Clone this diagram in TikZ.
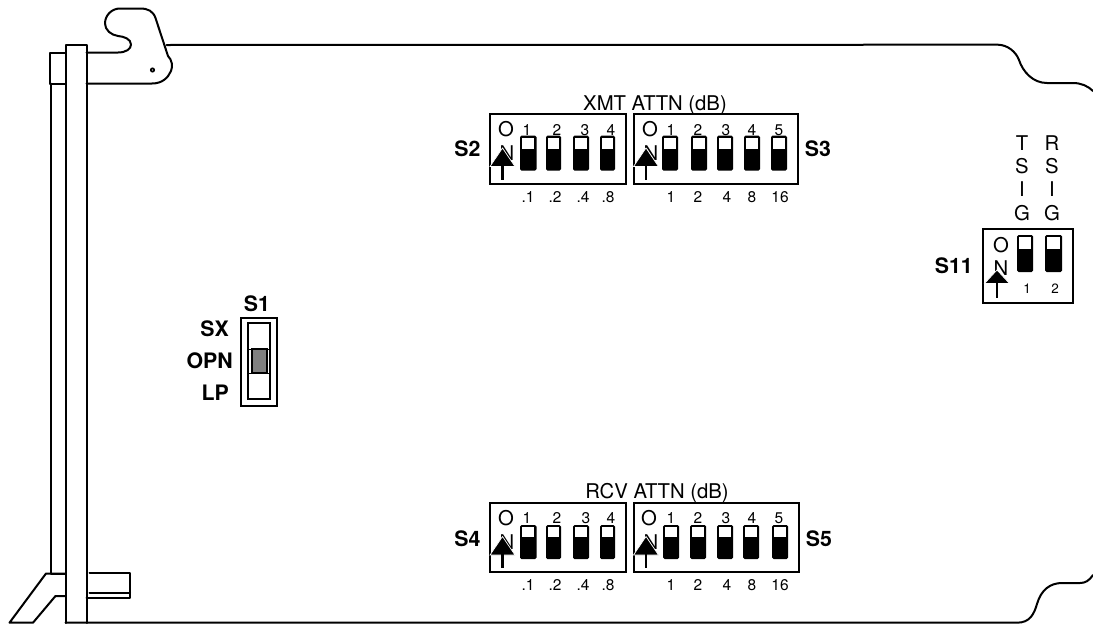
\documentclass[tikz,border=0pt]{standalone}
\usepackage{fontspec}
\setmainfont{TeX Gyre Heros}
\newcommand{\fs}[1]{\fontsize{#1}{#1}\selectfont}
\tikzset{
  outline/.style={line width=2pt,line join=round,line cap=round},
  dipbox/.style={draw,line width=2pt},
  big/.style={inner sep=0pt,anchor=base,font=\fs{20.3}},
  boldlbl/.style={inner sep=0pt,anchor=base,font=\fs{21.3}\bfseries},
  num/.style={inner sep=0pt,anchor=base,font=\fs{15.5}},
  swbody/.style={fill=black,rounded corners=1.5pt},
  arrowhead/.style={fill=black,draw=white,line width=0.7pt},
  stem/.style={line width=2.2pt}
}
% dip switch lever: x1,x2,ytop,ydiv,ybot
\newcommand{\lever}[5]{%
  \fill[swbody] (#1,#3) rectangle (#2,#5);
  \fill[white] (#1+2.2,#3+2.2) rectangle (#2-2.2,#4);
}
% ON marker: xO, yO baseline, xN, yN baseline, apex x, apex y, base y, stem end y
\newcommand{\onmark}[8]{%
  \node[big] at (#1,#2) {O};
  \node[big] at (#3,#4) {N};
  \draw[arrowhead] (#5-12.5,#7+0.5) -- (#5,#6-1) -- (#5+12.5,#7+0.5) -- cycle;
  \draw[stem] (#5,#7-1) -- (#5,#8);
}
\begin{document}
\begin{tikzpicture}[x=1pt,y=-1pt]
\useasboundingbox (0,0) rectangle (1093,624);
% card outline
\draw[outline] (65.5,623) -- (65.5,45) -- (86.5,45) -- (86.5,623);
\draw[outline] (65.5,622.7) -- (1017,622.7)
  .. controls (1030,622.7) and (1034,614) .. (1037,604)
  .. controls (1041,590) and (1050,583) .. (1062,583)
  -- (1080,583) .. controls (1085,583) and (1089,581) .. (1093,575);
\draw[outline] (50,83.5) -- (50,53) -- (65.5,53);
\draw[outline] (50,83.5) -- (65.5,83.5);
\draw[outline] (51,83.5) -- (51,573.5) -- (65.5,573.5);
\draw[outline] (86.5,52.5) -- (118,52.5)
  .. controls (126,52.5) and (131,49) .. (131,44.5)
  .. controls (131,39) and (124,36.5) .. (118,36)
  .. controls (111,35) and (105,30) .. (105,23.5)
  .. controls (105,15) and (112,8.5) .. (120,8.5)
  -- (140,8.5)
  .. controls (148,8.5) and (153,11) .. (155.5,18)
  -- (168,56)
  .. controls (172,60) and (173,66) .. (171,71)
  .. controls (168,78) and (162,83.5) .. (152,83.5)
  -- (86.5,83.5);
\fill (152.5,70) circle (2.6pt);
\fill[white] (152.5,70) circle (0.7pt);
\draw[outline] (166.5,45) -- (998,44.7)
  .. controls (1008,45) and (1016,52) .. (1019,60)
  .. controls (1023,72) and (1033,83) .. (1047,83)
  -- (1073,83) .. controls (1081,83) and (1088,86) .. (1093,91);
% bottom-left foot and latch
\draw[outline] (65.5,573.5) -- (46,573.5) -- (9.5,622.7) -- (33,622.7) -- (55.5,596) -- (65.5,596);
\draw[outline] (89.5,572.5) -- (130,572.5) -- (130,597.5) -- (86.5,597.5);
\draw[outline] (89.5,593) -- (130,593);
% S1
\node[dipbox,minimum width=36pt,minimum height=88pt,inner sep=0pt] (s1box) at (259,362) {};
\node[draw,line width=1.8pt,minimum width=22pt,minimum height=76pt,inner sep=0pt] (s1inner) at (259,361) {};
\draw[line width=0.5pt] (s1inner.west |- 0,349) -- (s1inner.east |- 0,349);
\draw[line width=0.5pt] (s1inner.west |- 0,373) -- (s1inner.east |- 0,373);
\node[draw,fill=black!50,line width=1.8pt,minimum width=15pt,minimum height=24pt,inner sep=0pt] (s1slider) at (259.5,361) {};
\node[boldlbl] (s1) at (257,311) {S1};
\node[boldlbl,anchor=base east] (sx) at (229,336) {SX};
\node[boldlbl,anchor=base east] (opn) at (233,368) {OPN};
\node[boldlbl,anchor=base east] (lp) at (229,400) {LP};
% S2 / S3 boxes
\path[dipbox,draw] (490,114.3) rectangle (626,183.7);
\path[dipbox,draw] (633.5,114.3) rectangle (797.7,183.7);
\node[big] (xmt) at (655,110) {XMT ATTN (dB)};
\node[boldlbl] (s2) at (467.5,156) {S2};
\node[boldlbl] (s3) at (818,156) {S3};
\onmark{506}{136}{507}{160}{502.5}{149}{166}{180}
\onmark{650}{136}{651}{160}{646}{149}{166}{180}
\foreach \a/\b in {520/536.5,546/561,573/589,600/615,662/678,691/707,717/733,744/760,771/787}
  {\lever{\a}{\b}{135.7}{149}{170.7}}
\foreach \x/\t in {527/1,557/2,585/3,611/4,671/1,698/2,726/3,752/4,779/5}
  \node[num] at (\x,135) {\t};
\foreach \x/\t in {528/.1,555/.2,583/.4,608/.8,671/1,698/2,727/4,752/8,780/16}
  \node[num] at (\x,202) {\t};
% S4 / S5 boxes
\path[dipbox,draw] (490,502.7) rectangle (626,572);
\path[dipbox,draw] (633.5,502.7) rectangle (798.5,572);
\node[big] (rcv) at (657,498.5) {RCV ATTN (dB)};
\node[boldlbl] (s4) at (467.5,546) {S4};
\node[boldlbl] (s5) at (819,546) {S5};
\onmark{506}{525}{507}{549}{502.5}{537.5}{554.5}{568}
\onmark{649}{525}{651}{549}{646}{537.5}{554.5}{568}
\foreach \a/\b in {520/536.5,546/561,573/589,600/615,663/679,690/706,717/733,743/759,772/788}
  {\lever{\a}{\b}{525}{537}{559}}
\foreach \x/\t in {527/1,557/2,586/3,611/4,671/1,698/2,726/3,752/4,779/5}
  \node[num] at (\x,523) {\t};
\foreach \x/\t in {528/.1,555/.2,583/.4,608/.8,671/1,698/2,727/4,752/8,780/16}
  \node[num] at (\x,590) {\t};
% S11
\path[dipbox,draw] (983,229) rectangle (1073,303);
\onmark{1001}{252}{1001}{275}{997}{271}{283}{298}
\lever{1017}{1033}{235}{249}{272}
\lever{1045}{1062}{235}{249}{272}
\node[num,font=\fs{13.5}] at (1027,293) {1};
\node[num,font=\fs{13.5}] at (1055,293) {2};
\node[boldlbl,anchor=base east] (s11) at (973,273) {S11};
\foreach \y/\a/\b in {150/T/R,173/S/S,196/I/I,220/G/G}{
  \node[big] at (1022,\y) {\a};
  \node[big] at (1052,\y) {\b};
}
\end{tikzpicture}
\end{document}
